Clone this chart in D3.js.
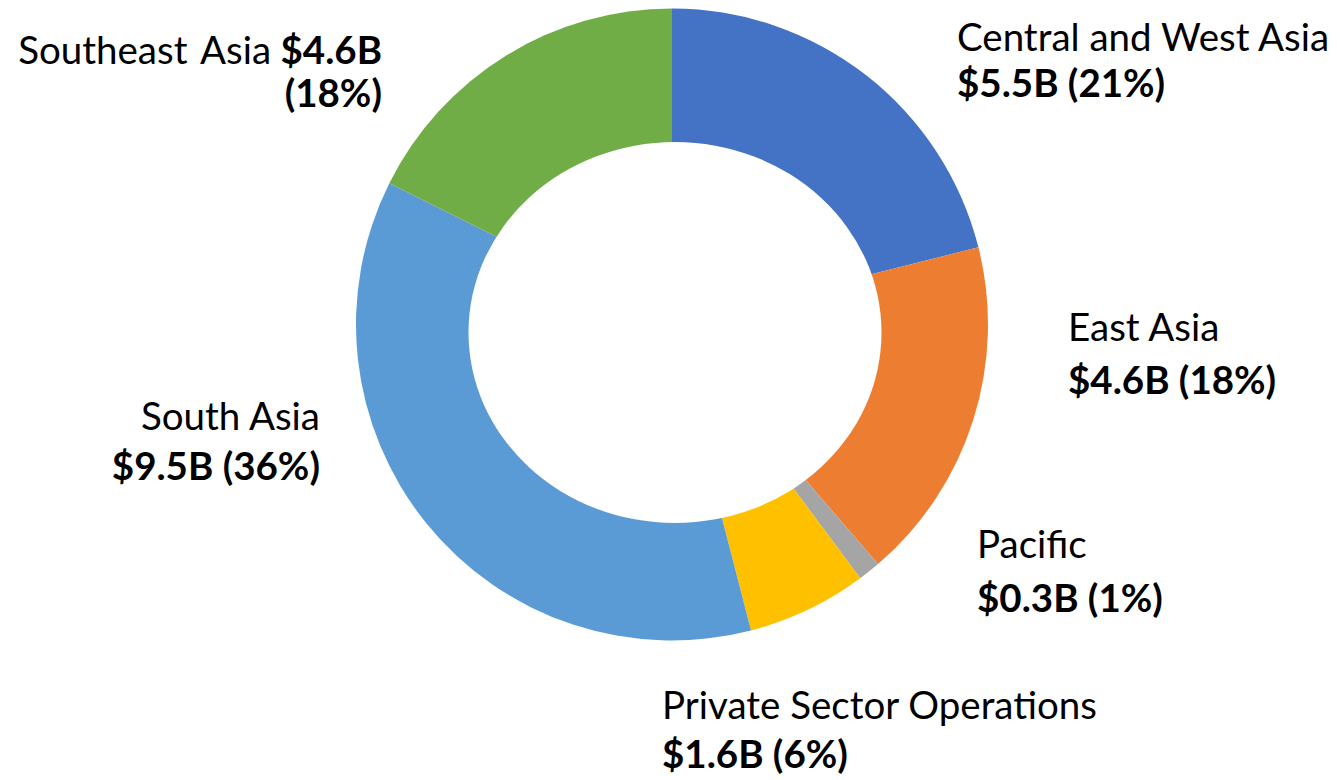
<!DOCTYPE html>
<html>
<head>
<meta charset="utf-8">
<script src="https://cdn.jsdelivr.net/npm/d3@7"></script>
<style>
  body { margin: 0; background: #fff; }
  text { font-family: Lato, "Open Sans", sans-serif; fill: #000; }
</style>
</head>
<body>
<div id="chart"></div>
<script>
// regions, funding in $B and share of total
var regions = ["Central and West Asia", "East Asia", "Pacific", "Private Sector Operations", "South Asia", "Southeast Asia"];
var amounts = [5.5, 4.6, 0.3, 1.6, 9.5, 4.6];
var shares = [21, 18, 1, 6, 36, 18];
var colors = ["#4472C4", "#ED7D31", "#A5A5A5", "#FFC000", "#5B9BD5", "#70AD47"];

var svgWidth = 1340;
var svgHeight = 780;
var cx = 672, cy = 324.5;
var outerR = 316;

var svg = d3.select("#chart")
    .append("svg")
    .attr("width", svgWidth)
    .attr("height", svgHeight);

// hole of the donut is a bit squashed and off-centre in the original
var mask = svg.append("defs").append("mask").attr("id", "hole");
mask.append("rect").attr("width", svgWidth).attr("height", svgHeight).attr("fill", "white");
mask.append("ellipse")
    .attr("cx", cx + 3).attr("cy", cy + 8)
    .attr("rx", 206.5).attr("ry", 190.5)
    .attr("fill", "black");

var ring = svg.append("g").attr("mask", "url(#hole)")
    .append("g")
    .attr("transform", `translate(${cx}, ${cy})`);

var pie = d3.pie().sort(null).value(d => d);
var arc = d3.arc().innerRadius(0).outerRadius(outerR);

ring.selectAll("path")
    .data(pie(amounts))
    .enter()
    .append("path")
    .attr("d", arc)
    .attr("fill", (d, i) => colors[i]);

// labels: x, baseline of first line, baseline of second line, anchor
var labelPos = [
    [957, 51, 97, "start"],
    [1068, 341, 394, "start"],
    [977, 558, 612, "start"],
    [662, 719, 768, "start"],
    [320, 430, 480, "end"],
    [382, 64, 107, "end"]
];
var fontSize = 38.5;

regions.forEach(function (name, i) {
    var p = labelPos[i];
    var value = `$${amounts[i].toFixed(1)}B`;
    var pct = `(${shares[i]}%)`;
    var t = svg.append("text")
        .attr("x", p[0])
        .attr("text-anchor", p[3])
        .style("font-size", fontSize + "px");
    if (name === "Southeast Asia") {
        t.append("tspan").attr("x", p[0]).attr("y", p[1]).style("word-spacing", "4px").text(name);
        t.append("tspan").style("font-weight", "bold").text(" " + value);
        t.append("tspan").attr("x", p[0]).attr("y", p[2]).style("font-weight", "bold").text(pct);
    } else {
        t.append("tspan").attr("x", p[0]).attr("y", p[1]).text(name);
        t.append("tspan").attr("x", p[0]).attr("y", p[2]).style("font-weight", "bold").text(value + " " + pct);
    }
});
</script>
</body>
</html>
